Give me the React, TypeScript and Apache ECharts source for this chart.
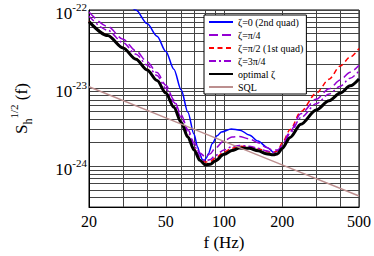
import React, { useEffect, useRef } from 'react';
import * as echarts from 'echarts';

// Frequencies (Hz) shared by most curves
const freq = [20, 25, 30, 35, 40, 45, 50, 55, 60, 65, 70, 75, 80, 85, 90, 100, 110, 120, 135, 150, 165, 180, 190, 200, 220, 250, 300, 350, 400, 450, 500];

// optimal ζ (black)
const optimal = [7.1e-23, 4.7e-23, 3.27e-23, 2.34e-23, 1.71e-23, 1.25e-23, 8.63e-24, 5.68e-24, 3.64e-24, 2.36e-24, 1.62e-24, 1.19e-24, 1.04e-24, 1.06e-24, 1.17e-24, 1.42e-24, 1.59e-24, 1.71e-24, 1.7e-24, 1.58e-24, 1.45e-24, 1.4e-24, 1.45e-24, 1.69e-24, 2.34e-24, 3.44e-24, 5.25e-24, 6.9e-24, 8.63e-24, 1.07e-23, 1.31e-23];

// ζ=π/2 (1st quad), red dashed
const zetaPi2 = [7.2e-23, 4.78e-23, 3.32e-23, 2.38e-23, 1.74e-23, 1.27e-23, 8.8e-24, 5.8e-24, 3.72e-24, 2.42e-24, 1.67e-24, 1.25e-24, 1.13e-24, 1.15e-24, 1.27e-24, 1.52e-24, 1.7e-24, 1.8e-24, 1.78e-24, 1.68e-24, 1.55e-24, 1.5e-24, 1.58e-24, 1.98e-24, 2.95e-24, 5.0e-24, 8.6e-24, 1.3e-23, 1.92e-23, 2.5e-23, 3.22e-23];

// ζ=π/4, violet long dash
const zetaPi4 = [9.4e-23, 6.15e-23, 4.22e-23, 3.0e-23, 2.17e-23, 1.58e-23, 1.09e-23, 7.1e-24, 4.55e-24, 2.95e-24, 2.0e-24, 1.48e-24, 1.32e-24, 1.45e-24, 1.7e-24, 2.12e-24, 2.36e-24, 2.4e-24, 2.25e-24, 2.0e-24, 1.75e-24, 1.6e-24, 1.62e-24, 1.85e-24, 2.8e-24, 4.7e-24, 7.2e-24, 9.8e-24, 1.27e-23, 1.6e-23, 1.96e-23];

// ζ=3π/4, violet dash-dot
const zeta3Pi4 = [8.3e-23, 5.5e-23, 3.82e-23, 2.72e-23, 1.98e-23, 1.45e-23, 1.0e-23, 6.6e-24, 4.25e-24, 2.76e-24, 1.85e-24, 1.34e-24, 1.17e-24, 1.22e-24, 1.37e-24, 1.62e-24, 1.78e-24, 1.85e-24, 1.8e-24, 1.7e-24, 1.58e-24, 1.5e-24, 1.54e-24, 1.78e-24, 2.66e-24, 4.2e-24, 6.3e-24, 8.4e-24, 1.06e-23, 1.34e-23, 1.66e-23];

// ζ=0 (2nd quad), blue
const blueFreq = [30, 35, 40, 45, 50, 55, 60, 65, 70, 73, 75, 77, 79, 81, 83, 87, 92, 97, 109, 121, 135, 150, 168, 181, 200, 220, 250, 300, 350, 400, 450, 500];
const zeta0 = [1.6e-22, 1.0e-22, 6.7e-23, 4.6e-23, 2.95e-23, 1.75e-23, 9.5e-24, 4.92e-24, 2.56e-24, 1.76e-24, 1.44e-24, 1.23e-24, 1.18e-24, 1.27e-24, 1.45e-24, 1.95e-24, 2.45e-24, 2.75e-24, 3.0e-24, 2.9e-24, 2.52e-24, 2.1e-24, 1.73e-24, 1.5e-24, 1.69e-24, 2.34e-24, 3.44e-24, 5.25e-24, 6.9e-24, 8.63e-24, 1.07e-23, 1.31e-23];

// SQL
const sqlFreq = [20, 50, 100, 200, 500];
const sql = [1.04e-23, 4.16e-24, 2.08e-24, 1.04e-24, 4.16e-25];

// ticks / grid
const xTickValues = [20, 30, 40, 50, 60, 70, 80, 90, 100, 200, 300, 400, 500];
const xLabelValues = [20, 50, 100, 200, 500];
const yTickValues = [
  3e-25, 4e-25, 5e-25, 6e-25, 7e-25, 8e-25, 9e-25,
  1e-24, 2e-24, 3e-24, 4e-24, 5e-24, 6e-24, 7e-24, 8e-24, 9e-24,
  1e-23, 2e-23, 3e-23, 4e-23, 5e-23, 6e-23, 7e-23, 8e-23, 9e-23,
  1e-22,
];
const yLabelValues = [1e-24, 1e-23, 1e-22];
const yMin = 3e-25;
const yMax = 1e-22;

const names = ['ζ=0 (2nd quad)', 'ζ=π/4', 'ζ=π/2 (1st quad)', 'ζ=3π/4', 'optimal ζ', 'SQL'];

const FONT = 'Liberation Serif';
// the axis works in units of 1e-25 (labels show the true powers of ten)
const UNIT_EXP = -25;
const UNIT = 1e-25;
const toUnit = (v: number) => Number((v / UNIT).toPrecision(6));

const pair = (xs: number[], ys: number[]) => xs.map((x, i) => [x, toUnit(ys[i])]);

function lineSeries(name: string, xs: number[], ys: number[], color: string, width: number, type: any, z: number, smooth: number) {
  return {
    name,
    type: 'line',
    data: pair(xs, ys),
    symbol: 'none',
    showSymbol: false,
    smooth,
    smoothMonotone: 'x',
    z,
    lineStyle: { color, width, type },
    itemStyle: { color },
    emphasis: { disabled: true },
  };
}

export default function App() {
  const ref = useRef<HTMLDivElement>(null);
  useEffect(() => {
    document.body.style.margin = '0';
    const chart = echarts.init(ref.current!, null, { renderer: 'svg' });
    const option: any = {
      animation: false,
      textStyle: { fontFamily: FONT },
      grid: {
        left: 65, top: 10, width: 295, height: 205,
        show: true, borderColor: '#000', borderWidth: 1, backgroundColor: 'transparent',
      },
      legend: {
        orient: 'vertical',
        left: 204,
        top: 15,
        itemWidth: 24,
        itemHeight: 10,
        itemGap: 3,
        padding: [2, 3, 2, 4],
        backgroundColor: '#fff',
        borderColor: '#000',
        borderWidth: 1,
        borderRadius: 0,
        align: 'left',
        data: names,
        itemStyle: { opacity: 0 },
        formatter: (n: string) => `{t|${n}}`,
        textStyle: {
          fontFamily: FONT, fontSize: 10, color: '#000',
          rich: { t: { fontFamily: FONT, fontSize: 10, color: '#000' } },
        },
      },
      xAxis: {
        type: 'log',
        logBase: 10,
        min: 20,
        max: 500,
        axisLine: { show: true, lineStyle: { color: '#000', width: 1 } },
        axisTick: { show: false, customValues: xTickValues },
        splitLine: { show: true, lineStyle: { color: '#444', width: 1 } },
        axisLabel: {
          customValues: xLabelValues,
          formatter: (v: number) => `{t|${Math.round(v)}}`,
          margin: 6,
          rich: { t: { fontFamily: FONT, fontSize: 16, color: '#000' } },
        },
        name: '{t|f (Hz)}',
        nameLocation: 'middle',
        nameGap: 23,
        nameTextStyle: {
          fontFamily: FONT,
          rich: { t: { fontFamily: FONT, fontSize: 17, color: '#000' } },
        },
      },
      yAxis: {
        type: 'log',
        logBase: 10,
        min: toUnit(yMin),
        max: toUnit(yMax),
        axisLine: { show: true, lineStyle: { color: '#000', width: 1 } },
        axisTick: { show: false, customValues: yTickValues.map(toUnit) },
        splitLine: { show: true, lineStyle: { color: '#444', width: 1 } },
        axisLabel: {
          customValues: yLabelValues.map(toUnit),
          margin: 2,
          formatter: (v: number) => `{b|10}{s|${Math.round(Math.log10(v)) + UNIT_EXP}}`,
          rich: {
            b: { fontFamily: FONT, fontSize: 17, color: '#000', padding: [6, 0, 0, 0] },
            s: { fontFamily: FONT, fontSize: 11, color: '#000', verticalAlign: 'top', padding: [3, 0, 0, 0] },
          },
        },
        name: '{a|S}{sub|h}{sup|1/2}{a| (f)}',
        nameLocation: 'middle',
        nameRotate: 90,
        nameGap: 55,
        nameTextStyle: {
          fontFamily: FONT,
          rich: {
            a: { fontFamily: FONT, fontSize: 17, color: '#000', lineHeight: 26 },
            sub: { fontFamily: FONT, fontSize: 12, color: '#000', verticalAlign: 'bottom' },
            sup: { fontFamily: FONT, fontSize: 11, color: '#000', verticalAlign: 'top' },
          },
        },
      },
      series: [
        lineSeries(names[0], blueFreq, zeta0, '#0000ff', 1.5, 'solid', 2, 0.3),
        lineSeries(names[1], freq, zetaPi4, '#9400d3', 1.5, [9, 4], 3, 0.3),
        lineSeries(names[2], freq, zetaPi2, '#ff0000', 1.5, [5, 3.5], 2, 0.3),
        lineSeries(names[3], freq, zeta3Pi4, '#9400d3', 1.5, [7, 3, 2, 3], 3, 0.3),
        lineSeries(names[4], freq, optimal, '#000000', 3, 'solid', 4, 0.3),
        lineSeries(names[5], sqlFreq, sql, '#bc8f8f', 1.5, 'solid', 5, 0),
      ],
    };
    chart.setOption(option);
    return () => chart.dispose();
  }, []);
  return <div ref={ref} style={{ width: 374, height: 256 }} />;
}
